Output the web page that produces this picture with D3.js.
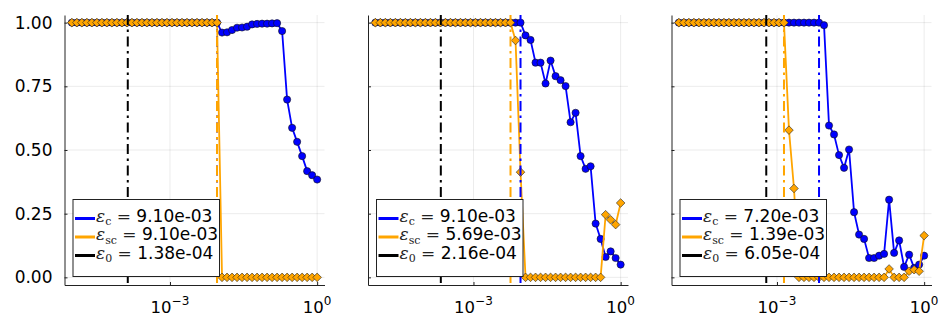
<!DOCTYPE html>
<html>
<head>
<meta charset="utf-8">
<script src="https://cdn.jsdelivr.net/npm/d3@7"></script>
<style>
  body { margin: 0; background: #fff; }
  svg { display: block; font-family: "DejaVu Sans", sans-serif; }
</style>
</head>
<body>
<svg id="canvas" width="947" height="316"></svg>
<script>
// shared epsilon grid (log spaced, 1e-5 .. 1)
let epsGrid = [
  1.000e-5, 1.265e-5, 1.600e-5, 2.024e-5, 2.560e-5, 3.237e-5, 4.095e-5, 5.179e-5, 6.551e-5, 8.286e-5,
  1.048e-4, 1.326e-4, 1.677e-4, 2.121e-4, 2.683e-4, 3.393e-4, 4.292e-4, 5.429e-4, 6.866e-4, 8.685e-4,
  1.099e-3, 1.389e-3, 1.757e-3, 2.223e-3, 2.812e-3, 3.556e-3, 4.498e-3, 5.690e-3, 7.197e-3, 9.103e-3,
  1.151e-2, 1.456e-2, 1.842e-2, 2.330e-2, 2.947e-2, 3.728e-2, 4.715e-2, 5.964e-2, 7.543e-2, 9.541e-2,
  0.1207, 0.1526, 0.1931, 0.2442, 0.3089, 0.3907, 0.4942, 0.6251, 0.7906, 1.0
]

// blue series (circles)
let blueA = [
  1, 1, 1, 1, 1, 1, 1, 1, 1, 1,
  1, 1, 1, 1, 1, 1, 1, 1, 1, 1,
  1, 1, 1, 1, 1, 1, 1, 1, 1, 1,
  0.961, 0.962, 0.971, 0.980, 0.981, 0.984, 0.993, 0.995, 0.996, 0.996,
  0.997, 0.998, 0.967, 0.698, 0.587, 0.532, 0.476, 0.417, 0.401, 0.384
]
let blueB = [
  1, 1, 1, 1, 1, 1, 1, 1, 1, 1,
  1, 1, 1, 1, 1, 1, 1, 1, 1, 1,
  1, 1, 1, 1, 1, 1, 1, 1, 1, 1,
  0.950, 0.932, 0.843, 0.843, 0.761, 0.851, 0.790, 0.774, 0.751, 0.609,
  0.646, 0.476, 0.426, 0.436, 0.211, 0.151, 0.080, 0.102, 0.076, 0.050
]
let blueC = [
  1, 1, 1, 1, 1, 1, 1, 1, 1, 1,
  1, 1, 1, 1, 1, 1, 1, 1, 1, 1,
  1, 1, 1, 1, 1, 1, 1, 1, 1, 0.990,
  0.596, 0.561, 0.480, 0.430, 0.502, 0.256, 0.168, 0.151, 0.076, 0.076,
  0.085, 0.092, 0.305, 0.096, 0.145, 0.041, 0.089, 0.037, 0.050, 0.085
]

// orange series (diamonds)
let orangeA = [
  1, 1, 1, 1, 1, 1, 1, 1, 1, 1,
  1, 1, 1, 1, 1, 1, 1, 1, 1, 1,
  1, 1, 1, 1, 1, 1, 1, 1, 1, 1,
  0, 0, 0, 0, 0, 0, 0, 0, 0, 0,
  0, 0, 0, 0, 0, 0, 0, 0, 0, 0
]
let orangeB = [
  1, 1, 1, 1, 1, 1, 1, 1, 1, 1,
  1, 1, 1, 1, 1, 1, 1, 1, 1, 1,
  1, 1, 1, 1, 1, 1, 1, 1, 0.930, 0.413,
  0, 0, 0, 0, 0, 0, 0, 0, 0, 0,
  0, 0, 0, 0, 0, 0, 0.246, 0.226, 0.207, 0.292
]
let orangeC = [
  1, 1, 1, 1, 1, 1, 1, 1, 1, 1,
  1, 1, 1, 1, 1, 1, 1, 1, 1, 1,
  1, 1, 0.578, 0.349, 0, 0, 0, 0, 0, 0,
  0, 0, 0, 0, 0, 0, 0, 0, 0, 0,
  0, 0, 0.033, 0, 0, 0, 0.024, 0.030, 0.024, 0.164
]

// thresholds drawn as vertical lines
let epsC = [9.10e-3, 9.10e-3, 7.20e-3]
let epsSC = [9.10e-3, 5.69e-3, 1.39e-3]
let eps0 = [1.38e-4, 2.16e-4, 6.05e-4]

let blueSeries = [blueA, blueB, blueC]
let orangeSeries = [orangeA, orangeB, orangeC]

let yTicks = [0, 0.25, 0.5, 0.75, 1]
let xTicks = [1e-3, 1]
let xTickExp = ['\u22123', '0']

let canvas = d3.select('#canvas')

let panelLeft = [64.5, 368, 671.5]
let panelW = 260
let plotTop = 15, plotBottom = 285

let fmtEps = (v) => {
  let s = v.toExponential(2)          // e.g. 9.10e-3
  let parts = s.split('e')
  let ex = parseInt(parts[1])
  let sign = ex < 0 ? '-' : '+'
  let abs = Math.abs(ex)
  return parts[0] + 'e' + sign + (abs < 10 ? '0' + abs : abs)
}

let drawPanel = (p) => {
  let L = panelLeft[p]
  let x = d3.scaleLog()
    .domain([Math.pow(10, -5.15), Math.pow(10, 0.15)])
    .range([L, L + panelW])
  let y = d3.scaleLinear()
    .domain([-0.03, 1.03])
    .range([plotBottom, plotTop])

  let g = canvas.append('g')

  // grid
  g.selectAll('.hgrid')
    .data(yTicks)
    .enter()
    .append('line')
    .attr('x1', L).attr('x2', L + panelW)
    .attr('y1', (d) => y(d)).attr('y2', (d) => y(d))
    .attr('stroke', '#000').attr('stroke-opacity', 0.1).attr('stroke-width', 0.8)
  g.selectAll('.vgrid')
    .data(xTicks)
    .enter()
    .append('line')
    .attr('x1', (d) => x(d)).attr('x2', (d) => x(d))
    .attr('y1', plotTop).attr('y2', plotBottom)
    .attr('stroke', '#000').attr('stroke-opacity', 0.1).attr('stroke-width', 0.8)

  // axes
  let yAxis = d3.axisLeft(y)
    .tickValues(yTicks)
    .tickSize(-3)
    .tickSizeOuter(0)
    .tickPadding(12)
    .tickFormat(p === 0 ? d3.format('.2f') : () => '')
  let ya = g.append('g')
    .attr('transform', 'translate(' + L + ',0)')
    .call(yAxis)
  ya.attr('font-size', 17).attr('font-family', '"DejaVu Sans", sans-serif')
  ya.selectAll('path, line').attr('stroke', '#222')
  ya.selectAll('text').attr('fill', '#000')

  let xAxis = d3.axisBottom(x)
    .tickValues(xTicks)
    .tickSize(-3)
    .tickSizeOuter(0)
    .tickFormat(() => '')
  let xa = g.append('g')
    .attr('transform', 'translate(0,' + plotBottom + ')')
    .call(xAxis)
  xa.selectAll('path, line').attr('stroke', '#222')

  // x tick labels 10^k
  xTicks.forEach((t, i) => {
    let lab = g.append('text')
      .attr('x', x(t))
      .attr('y', 313)
      .attr('text-anchor', 'middle')
      .attr('font-size', 16.5)
    lab.append('tspan').text('10')
    lab.append('tspan').attr('dy', -8.5).attr('font-size', 12).text(xTickExp[i])
  })

  let pts = (vals) => vals.map((v, i) => ({ x: epsGrid[i], y: v }))
  let line = d3.line().x((d) => x(d.x)).y((d) => y(d.y))

  // blue series
  let bp = pts(blueSeries[p])
  g.append('path')
    .attr('d', line(bp))
    .attr('fill', 'none')
    .attr('stroke', '#0000ff')
    .attr('stroke-width', 1.8)
  g.selectAll('.bc')
    .data(bp)
    .enter()
    .append('circle')
    .attr('cx', (d) => x(d.x))
    .attr('cy', (d) => y(d.y))
    .attr('r', 3.6)
    .attr('fill', '#0000ff')
    .attr('stroke', '#111')
    .attr('stroke-width', 0.6)

  // orange series
  let op = pts(orangeSeries[p])
  g.append('path')
    .attr('d', line(op))
    .attr('fill', 'none')
    .attr('stroke', '#ffa500')
    .attr('stroke-width', 1.8)
  g.selectAll('.od')
    .data(op)
    .enter()
    .append('path')
    .attr('transform', (d) => 'translate(' + x(d.x) + ',' + y(d.y) + ')')
    .attr('d', 'M0,-4.3L4.3,0L0,4.3L-4.3,0Z')
    .attr('fill', '#ffa500')
    .attr('stroke', '#222')
    .attr('stroke-width', 0.6)

  // vertical threshold lines
  let vl = [
    { v: epsC[p], c: '#0000ff' },
    { v: epsSC[p], c: '#ffa500' },
    { v: eps0[p], c: '#000000' }
  ]
  g.selectAll('.vl')
    .data(vl)
    .enter()
    .append('line')
    .attr('x1', (d) => x(d.v)).attr('x2', (d) => x(d.v))
    .attr('y1', plotTop).attr('y2', plotBottom)
    .attr('stroke', (d) => d.c)
    .attr('stroke-width', 2)
    .attr('stroke-dasharray', '10,4.5,2.5,4.5')

  // legend
  let lx = L + 8.5
  g.append('rect')
    .attr('x', lx).attr('y', 199.5)
    .attr('width', 146.5).attr('height', 77)
    .attr('fill', '#fff')
    .attr('stroke', '#222')
    .attr('stroke-width', 1)
  let subs = ['c', 'sc', '0']
  vl.forEach((d, k) => {
    let by = 221.5 + 18.5 * k
    g.append('line')
      .attr('x1', lx + 2).attr('x2', lx + 22)
      .attr('y1', by - 3).attr('y2', by - 3)
      .attr('stroke', d.c)
      .attr('stroke-width', 3)
    let t = g.append('text')
      .attr('x', lx + 23)
      .attr('y', by)
      .attr('font-size', 17)
    t.append('tspan')
      .attr('font-family', '"DejaVu Serif", serif')
      .attr('font-style', 'italic')
      .attr('fill', '#222')
      .text('\u03b5')
    t.append('tspan')
      .attr('font-family', '"DejaVu Serif", serif')
      .attr('font-size', 11)
      .attr('dy', 3.5)
      .attr('fill', '#222')
      .text(subs[k])
    t.append('tspan')
      .attr('font-family', '"DejaVu Serif", serif')
      .attr('dy', -3.5)
      .attr('fill', '#222')
      .text(' = ')
    t.append('tspan')
      .text(fmtEps(d.v))
  })
}

for (let p = 0; p < 3; p++) {
  drawPanel(p)
}
</script>
</body>
</html>
